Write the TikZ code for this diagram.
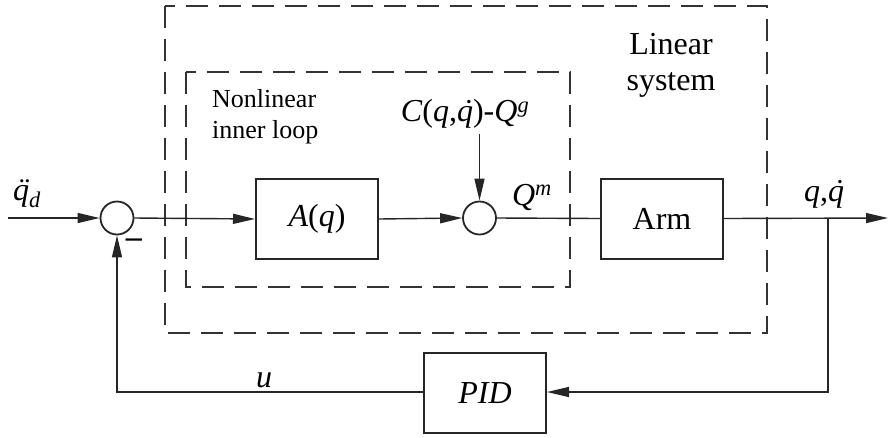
\documentclass[tikz,border=0pt]{standalone}
\usepackage{fontspec}
\setmainfont{Liberation Serif}
\usetikzlibrary{arrows.meta}
\newcommand{\accq}[1]{\ooalign{\textit{q}\cr\hidewidth\kern0.12em\textit{#1}\hidewidth\cr}}
\begin{document}
\begin{tikzpicture}[x=1pt,y=-1pt,
  line/.style={line width=1.4pt, draw=black!85},
  arr/.style={line, -{Triangle[length=22pt,width=10pt]}},
  blk/.style={draw=black!85, line width=2pt, inner sep=0pt, minimum width=122pt, minimum height=80pt,
    font=\fontsize{32}{36}\selectfont},
  sumc/.style={circle, draw=black!85, line width=1.8pt, minimum size=33pt, inner sep=0pt},
  dbox/.style={draw=black!80, line width=1.8pt, dash pattern=on 22pt off 11pt},
  lbl/.style={inner sep=0pt, font=\fontsize{32}{36}\selectfont},
  note/.style={inner sep=0pt, align=left, font=\fontsize{26}{31}\selectfont}]
\useasboundingbox (0,0) rectangle (888,437);
% dashed regions
\draw[dbox] (165,6) rectangle (767,333);
\draw[dbox] (186,72) rectangle (570,287);
% blocks
\node[sumc] (s1) at (117,218) {};
\node[blk] (aq) at (317,219) {\textit{A}(\textit{q})};
\node[sumc] (s2) at (479.5,218) {};
\node[blk] (arm) at (662,218.5) {Arm};
\node[blk] (pid) at (485,393) {\textit{PID}};
% coordinates
\coordinate (in) at (8,218);
\coordinate (out) at (888,218);
\coordinate (br) at (828,218);
\coordinate (brd) at (828,392);
\coordinate (fbl) at (117,392);
\coordinate (ctop) at (479.5,134);
% connectors
\draw[arr] (in) -- (s1.west);
\draw[arr] (s1.east) -- (aq.west);
\draw[arr] (aq.east) -- (s2.west);
\draw[line] (s2.east) -- (arm.west);
\draw[arr] (arm.east) -- (out);
\draw[arr] (br) -- (brd) -- (pid.east |- brd);
\draw[arr] (pid.west |- fbl) -- (fbl) -- (s1.south);
\draw[arr] (ctop) -- (s2.north);
% labels
\node[lbl] (qdd) at (27,197) {\accq{¨}\textsubscript{\textit{d}}};
\node[lbl] (minus) at (134,243) {\textbf{–}};
\node[lbl] (clab) at (465,114) {\textit{C}(\textit{q},\accq{˙})-\textit{Q}\textsuperscript{\textit{g}}};
\node[lbl] (qm) at (532,197) {\textit{Q}\textsuperscript{\textit{m}}};
\node[lbl] (qq) at (824,197) {\textit{q},\accq{˙}};
\node[lbl] (u) at (264,380) {\textit{u}};
\node[note, anchor=west] (nl) at (212,117) {Nonlinear\\inner loop};
\node[lbl, align=center] (ls) at (671,65) {Linear\\system};
\end{tikzpicture}
\end{document}
